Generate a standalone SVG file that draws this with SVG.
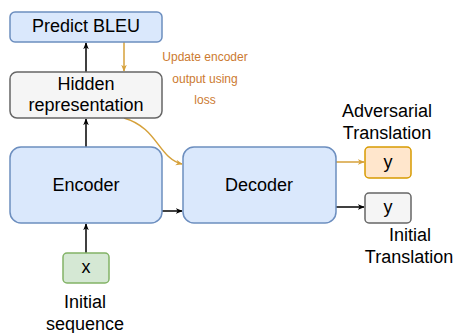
<svg xmlns="http://www.w3.org/2000/svg" width="456" height="333" viewBox="0 0 456 333">
<defs>
<marker id="ab" viewBox="0 0 10 10" refX="9" refY="5" markerWidth="7" markerHeight="7" orient="auto" markerUnits="userSpaceOnUse"><path d="M0,1 L10,5 L0,9 L3,5 Z" fill="#000"/></marker>
<marker id="ao" viewBox="0 0 10 10" refX="9" refY="5" markerWidth="7" markerHeight="7" orient="auto" markerUnits="userSpaceOnUse"><path d="M0,1 L10,5 L0,9 L3,5 Z" fill="#D6A13A"/></marker>
</defs>
<style>
text{font-family:"Liberation Sans",Arial,sans-serif;font-size:18px;fill:#000;text-anchor:middle}
.blue{fill:#dae8fc;stroke:#6c8ebf;stroke-width:1.5}
.gray{fill:#f5f5f5;stroke:#666666;stroke-width:1.5}
.green{fill:#d5e8d4;stroke:#82b366;stroke-width:1.5}
.orange{fill:#ffe6cc;stroke:#d79b00;stroke-width:1.5}
.lb{fill:none;stroke:#000;stroke-width:1.5}
.lo{fill:none;stroke:#D6A13A;stroke-width:1.5}
.note{font-size:12px;fill:#CC7A30}
</style>
<rect width="456" height="333" fill="#fff"/>
<g id="connectors">
<path class="lb" d="M86,72 V43" marker-end="url(#ab)"/>
<path class="lo" d="M124,42 V71" marker-end="url(#ao)"/>
<path class="lb" d="M86,147 V119" marker-end="url(#ab)"/>
<path class="lo" d="M124,118 C158,128 158,158 182,164" marker-end="url(#ao)"/>
<path class="lb" d="M162,211 H182" marker-end="url(#ab)"/>
<path class="lb" d="M86,253 V224" marker-end="url(#ab)"/>
<path class="lo" d="M336,162 H364" marker-end="url(#ao)"/>
<path class="lb" d="M336,207 H364" marker-end="url(#ab)"/>
</g>
<g id="predict-bleu"><rect class="blue" x="10" y="12" width="152" height="30" rx="5"/><text x="86" y="32">Predict BLEU</text></g>
<g id="hidden"><rect class="gray" x="10" y="72" width="152" height="46" rx="7"/><text x="86" y="90">Hidden</text><text x="86" y="111">representation</text></g>
<g id="encoder"><rect class="blue" x="10" y="147" width="152" height="76" rx="11"/><text x="86" y="191">Encoder</text></g>
<g id="decoder"><rect class="blue" x="183" y="147" width="153" height="76" rx="11"/><text x="259" y="191">Decoder</text></g>
<g id="x"><rect class="green" x="63" y="253" width="46" height="30" rx="4"/><text x="86" y="273">x</text></g>
<g id="y-adv"><rect class="orange" x="365" y="147" width="46" height="31" rx="4"/><text x="388" y="168">y</text></g>
<g id="y-init"><rect class="gray" x="365" y="193" width="46" height="30" rx="4"/><text x="388" y="213">y</text></g>
<g id="labels">
<text class="note" x="205" y="61">Update encoder</text>
<text class="note" x="205" y="83">output using</text>
<text class="note" x="205" y="104">loss</text>
<text x="387" y="117">Adversarial</text>
<text x="387" y="139">Translation</text>
<text x="410" y="241">Initial</text>
<text x="409" y="263">Translation</text>
<text x="85" y="308">Initial</text>
<text x="85" y="330">sequence</text>
</g>
</svg>
